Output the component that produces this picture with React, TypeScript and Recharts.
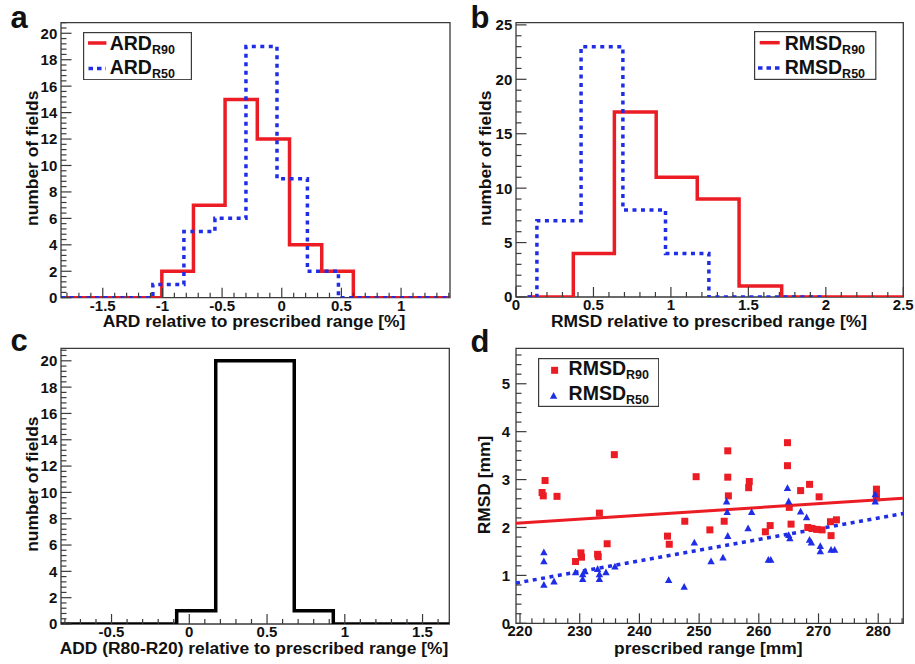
import React from 'react';
import { ComposedChart, Line, Scatter, XAxis, YAxis, Legend, ReferenceArea } from 'recharts';

const FONT = '"Liberation Sans", Arial, Helvetica, sans-serif';
const RED = '#ec1c24';
const BLUE = '#1f2de6';
const INK = '#111111';
const FRAME = '#3a3a3a';

// ---------- Panel a : ARD histograms ----------
const ardR90Edges = [-1.005, -0.74, -0.475, -0.205, 0.065, 0.335, 0.6];
const ardR90Counts = [2, 7, 15, 12, 4, 2];
const ardR50Edges = [-1.08, -0.82, -0.56, -0.3, -0.04, 0.215, 0.475];
const ardR50Counts = [1, 5, 6, 19, 9, 2];
const ardXRange = [-1.85, 1.41];
const ardYMax = 20.8;
const ardXLabels = [-1.5, -1, -0.5, 0, 0.5, 1];
const ardYLabels = [0, 2, 4, 6, 8, 10, 12, 14, 16, 18, 20];

// ---------- Panel b : RMSD histograms ----------
const rmsdR90Edges = [0.37, 0.635, 0.905, 1.17, 1.44, 1.715];
const rmsdR90Counts = [4, 17, 11, 9, 1];
const rmsdR50Edges = [0.135, 0.42, 0.69, 0.965, 1.245];
const rmsdR50Counts = [7, 23, 8, 4];
const rmsdR90Span = [0.075, 2.5];
const rmsdR50Span = [0.075, 2.0];
const rmsdXRange = [0, 2.5];
const rmsdYMax = 25.2;
const rmsdXLabels = [0, 0.5, 1, 1.5, 2, 2.5];
const rmsdYLabels = [0, 5, 10, 15, 20, 25];

// ---------- Panel c : ADD histogram ----------
const addEdges = [-0.081, 0.17, 0.423, 0.675, 0.926];
const addCounts = [1, 20, 20, 1];
const addXRange = [-0.825, 1.672];
const addYMax = 20.95;
const addXLabels = [-0.5, 0, 0.5, 1, 1.5];
const addYLabels = [0, 2, 4, 6, 8, 10, 12, 14, 16, 18, 20];

// ---------- Panel d : RMSD vs prescribed range ----------
const rangeXRange = [219.33, 284.2];
const rangeYMax = 5.74;
const rangeXLabels = [220, 230, 240, 250, 260, 270, 280];
const rangeYLabels = [0, 1, 2, 3, 4, 5];
const r90Range = [223.7, 223.9, 224.2, 226.2, 229.3, 230.2, 230.3, 233.0, 233.1, 233.3, 234.6, 235.8, 244.7, 245.0, 247.6, 249.5, 251.8, 254.2, 254.8, 254.8, 254.9, 258.3, 258.4, 261.1, 261.9, 264.8, 264.8, 265.1, 265.4, 267.0, 268.5, 268.2, 268.9, 269.7, 270.6, 270.1, 272.1, 272.0, 273.0, 279.7, 279.7, 279.7];
const r90Rmsd = [2.73, 2.66, 2.98, 2.65, 1.29, 1.47, 1.38, 1.44, 1.39, 2.30, 1.66, 3.52, 1.82, 1.65, 2.13, 3.06, 1.95, 2.13, 3.60, 3.05, 2.66, 2.83, 2.96, 1.91, 2.04, 3.77, 3.29, 2.42, 2.07, 2.77, 2.90, 2.00, 1.98, 1.96, 1.95, 2.64, 1.83, 2.12, 2.16, 2.80, 2.70, 2.62];
const r50Range = [224.0, 224.0, 224.0, 225.7, 229.3, 230.5, 230.5, 230.9, 233.0, 233.3, 233.3, 234.4, 235.9, 244.9, 247.5, 249.2, 252.0, 254.0, 254.6, 254.7, 254.8, 258.2, 258.8, 261.6, 262.0, 264.8, 265.0, 265.0, 265.2, 267.0, 268.0, 268.5, 268.8, 270.3, 270.3, 272.1, 272.7, 279.5, 279.5];
const r50Rmsd = [1.48, 1.29, 0.80, 0.87, 1.06, 1.02, 0.92, 1.08, 1.13, 1.02, 0.92, 1.06, 1.18, 0.90, 0.76, 1.68, 1.29, 1.37, 2.54, 2.32, 1.82, 1.98, 2.32, 1.32, 1.32, 2.82, 2.54, 1.84, 1.77, 2.33, 2.21, 1.74, 1.68, 1.61, 1.50, 1.53, 1.53, 2.69, 2.54];
const fitR90X = [219.33, 284.2];
const fitR90Y = [2.09, 2.61];
const fitR50X = [219.33, 284.2];
const fitR50Y = [0.84, 2.29];

// ---------- helpers ----------
function stepSeries(edges: number[], counts: number[], from: number, to: number) {
  const pts: { x: number; y: number }[] = [{ x: from, y: 0 }];
  counts.forEach((c, i) => pts.push({ x: edges[i], y: c }));
  pts.push({ x: edges[edges.length - 1], y: 0 });
  pts.push({ x: to, y: 0 });
  return pts;
}

function zip(xs: number[], ys: number[]) {
  return xs.map((x, i) => ({ x, y: ys[i] }));
}

function minorTicks(lo: number, hi: number, step: number) {
  const out: number[] = [];
  const s = Math.ceil(lo / step - 1e-9);
  const e = Math.floor(hi / step + 1e-9);
  for (let k = s; k <= e; k++) out.push(Math.round(k * step * 1e6) / 1e6);
  return out;
}

function isLabel(labels: number[], v: number) {
  return labels.some((l) => Math.abs(l - v) < 1e-6);
}

function makeXTick(labels: number[]) {
  return (props: any) => {
    const { x, y, payload } = props;
    const v = payload.value;
    const major = isLabel(labels, v);
    return (
      <g>
        <line x1={x} y1={y} x2={x} y2={y - (major ? 10 : 5)} stroke={FRAME} strokeWidth={1.2} />
        {major && (
          <text x={x} y={y + 13} textAnchor="middle" fontFamily={FONT} fontWeight="bold" fontSize={15} fill={INK}>
            {String(v)}
          </text>
        )}
      </g>
    );
  };
}

function makeYTick(labels: number[], gap: number) {
  return (props: any) => {
    const { x, y, payload } = props;
    const v = payload.value;
    const major = isLabel(labels, v);
    return (
      <g>
        <line x1={x} y1={y} x2={x + (major ? 10.5 : 5.5)} y2={y} stroke={FRAME} strokeWidth={1.2} />
        {major && (
          <text x={x - gap} y={y} dy="0.36em" textAnchor="end" fontFamily={FONT} fontWeight="bold" fontSize={15} fill={INK}>
            {String(v)}
          </text>
        )}
      </g>
    );
  };
}

const LEG_MAIN = 19.5;
const LEG_SUB = 12.5;

function LegendText({ x, y, main, sub }: any) {
  return (
    <text x={x} y={y} fontFamily={FONT} fontWeight="bold" fontSize={LEG_MAIN} fill={INK}>
      {main}
      <tspan fontSize={LEG_SUB} dy={3.5}>{sub}</tspan>
    </text>
  );
}

function LegendFrame({ w, h, children }: any) {
  return (
    <svg width={w} height={h} style={{ display: 'block' }}>
      <rect x={0.6} y={0.6} width={w - 1.2} height={h - 1.2} fill="#ffffff" stroke={FRAME} strokeWidth={1.2} />
      {children}
    </svg>
  );
}

// ---------- panels ----------
function PanelA() {
  const xt = minorTicks(ardXRange[0], ardXRange[1], 0.1);
  const yt = minorTicks(0, ardYMax, 0.4);
  return (
    <ComposedChart width={458} height={332} margin={{ top: 22.7, right: 8, bottom: 4.3, left: 21 }}>
      <XAxis type="number" dataKey="x" domain={ardXRange} allowDataOverflow ticks={xt} interval={0} tick={makeXTick(ardXLabels)} tickLine={false} axisLine={false} tickSize={0} tickMargin={0} height={30} />
      <YAxis type="number" dataKey="y" domain={[0, ardYMax]} allowDataOverflow ticks={yt} interval={0} tick={makeYTick(ardYLabels, 3.7)} tickLine={false} axisLine={false} tickSize={0} tickMargin={0} width={40} />
      <ReferenceArea x1={ardXRange[0]} x2={ardXRange[1]} y1={0} y2={ardYMax} fill="none" fillOpacity={0} stroke={FRAME} strokeWidth={1.3} ifOverflow="visible" />
      <Line data={stepSeries(ardR90Edges, ardR90Counts, ardXRange[0], ardXRange[1])} dataKey="y" type="stepAfter" stroke={RED} strokeWidth={3.5} dot={false} isAnimationActive={false} />
      <Line data={stepSeries(ardR50Edges, ardR50Counts, ardXRange[0], ardXRange[1])} dataKey="y" type="stepAfter" stroke={BLUE} strokeWidth={3.5} strokeDasharray="4 4.5" dot={false} isAnimationActive={false} />
      <Legend
        layout="vertical"
        align="center"
        verticalAlign="middle"
        wrapperStyle={{ left: 83.3, top: 31.7, width: 109, height: 48.3 }}
        content={() => (
          <LegendFrame w={109} h={48.3}>
            <line x1={5} y1={11} x2={23.4} y2={11} stroke={RED} strokeWidth={3.5} />
            <LegendText x={26.7} y={18.3} main="ARD" sub="R90" />
            <line x1={5.5} y1={36.6} x2={23} y2={36.6} stroke={BLUE} strokeWidth={3.5} strokeDasharray="4.5 4" />
            <LegendText x={26.7} y={42.3} main="ARD" sub="R50" />
          </LegendFrame>
        )}
      />
    </ComposedChart>
  );
}

function PanelB() {
  const xt = minorTicks(rmsdXRange[0], rmsdXRange[1], 0.1);
  const yt = minorTicks(0, rmsdYMax, 1);
  return (
    <ComposedChart width={457} height={332} margin={{ top: 22.7, right: 11.7, bottom: 5, left: 18 }}>
      <XAxis type="number" dataKey="x" domain={rmsdXRange} allowDataOverflow ticks={xt} interval={0} tick={makeXTick(rmsdXLabels)} tickLine={false} axisLine={false} tickSize={0} tickMargin={0} height={30} />
      <YAxis type="number" dataKey="y" domain={[0, rmsdYMax]} allowDataOverflow ticks={yt} interval={0} tick={makeYTick(rmsdYLabels, 3.7)} tickLine={false} axisLine={false} tickSize={0} tickMargin={0} width={40} />
      <ReferenceArea x1={rmsdXRange[0]} x2={rmsdXRange[1]} y1={0} y2={rmsdYMax} fill="none" fillOpacity={0} stroke={FRAME} strokeWidth={1.3} ifOverflow="visible" />
      <Line data={stepSeries(rmsdR90Edges, rmsdR90Counts, rmsdR90Span[0], rmsdR90Span[1])} dataKey="y" type="stepAfter" stroke={RED} strokeWidth={3.5} dot={false} isAnimationActive={false} />
      <Line data={stepSeries(rmsdR50Edges, rmsdR50Counts, rmsdR50Span[0], rmsdR50Span[1])} dataKey="y" type="stepAfter" stroke={BLUE} strokeWidth={3.5} strokeDasharray="4 4.5" dot={false} isAnimationActive={false} />
      <Legend
        layout="vertical"
        align="center"
        verticalAlign="middle"
        wrapperStyle={{ left: 296.3, top: 31, width: 122.4, height: 49 }}
        content={() => (
          <LegendFrame w={122.4} h={49}>
            <line x1={5.7} y1={11.7} x2={25.7} y2={11.7} stroke={RED} strokeWidth={3.5} />
            <LegendText x={30.7} y={19} main="RMSD" sub="R90" />
            <line x1={4} y1={37} x2={25.7} y2={37} stroke={BLUE} strokeWidth={3.5} strokeDasharray="4.5 4" />
            <LegendText x={30.7} y={43} main="RMSD" sub="R50" />
          </LegendFrame>
        )}
      />
    </ComposedChart>
  );
}

function PanelC() {
  const xt = minorTicks(addXRange[0], addXRange[1], 0.1);
  const yt = minorTicks(0, addYMax, 0.4);
  return (
    <ComposedChart width={458} height={332} margin={{ top: 16.3, right: 8.7, bottom: 10, left: 21 }}>
      <XAxis type="number" dataKey="x" domain={addXRange} allowDataOverflow ticks={xt} interval={0} tick={makeXTick(addXLabels)} tickLine={false} axisLine={false} tickSize={0} tickMargin={0} height={30} />
      <YAxis type="number" dataKey="y" domain={[0, addYMax]} allowDataOverflow ticks={yt} interval={0} tick={makeYTick(addYLabels, 3.7)} tickLine={false} axisLine={false} tickSize={0} tickMargin={0} width={40} />
      <ReferenceArea x1={addXRange[0]} x2={addXRange[1]} y1={0} y2={addYMax} fill="none" fillOpacity={0} stroke={FRAME} strokeWidth={1.3} ifOverflow="visible" />
      <Line data={stepSeries(addEdges, addCounts, addXRange[0], addXRange[1])} dataKey="y" type="stepAfter" stroke="#000000" strokeWidth={3.5} dot={false} isAnimationActive={false} />
    </ComposedChart>
  );
}

const squareShape = (p: any) => <rect x={p.cx - 3.5} y={p.cy - 3.5} width={7} height={7} fill={RED} />;
const triangleShape = (p: any) => (
  <polygon points={`${p.cx},${p.cy - 4} ${p.cx + 3.7},${p.cy + 2.8} ${p.cx - 3.7},${p.cy + 2.8}`} fill={BLUE} />
);

function PanelD() {
  const xt = minorTicks(rangeXRange[0], rangeXRange[1], 2);
  const yt = minorTicks(0, rangeYMax, 0.2);
  return (
    <ComposedChart width={457} height={332} margin={{ top: 16.3, right: 11.7, bottom: 10.7, left: 18 }}>
      <XAxis type="number" dataKey="x" domain={rangeXRange} allowDataOverflow ticks={xt} interval={0} tick={makeXTick(rangeXLabels)} tickLine={false} axisLine={false} tickSize={0} tickMargin={0} height={30} />
      <YAxis type="number" dataKey="y" domain={[0, rangeYMax]} allowDataOverflow ticks={yt} interval={0} tick={makeYTick(rangeYLabels, 6)} tickLine={false} axisLine={false} tickSize={0} tickMargin={0} width={40} />
      <ReferenceArea x1={rangeXRange[0]} x2={rangeXRange[1]} y1={0} y2={rangeYMax} fill="none" fillOpacity={0} stroke={FRAME} strokeWidth={1.3} ifOverflow="visible" />
      <Line data={zip(fitR90X, fitR90Y)} dataKey="y" type="linear" stroke={RED} strokeWidth={3} dot={false} isAnimationActive={false} />
      <Line data={zip(fitR50X, fitR50Y)} dataKey="y" type="linear" stroke={BLUE} strokeWidth={3.5} strokeDasharray="4 4.5" dot={false} isAnimationActive={false} />
      <Scatter data={zip(r90Range, r90Rmsd)} fill={RED} shape={squareShape} isAnimationActive={false} />
      <Scatter data={zip(r50Range, r50Rmsd)} fill={BLUE} shape={triangleShape} isAnimationActive={false} />
      <Legend
        layout="vertical"
        align="center"
        verticalAlign="middle"
        wrapperStyle={{ left: 79.7, top: 25.7, width: 121.3, height: 49 }}
        content={() => (
          <LegendFrame w={121.3} h={49}>
            <rect x={13.1} y={8.8} width={7} height={7} fill={RED} />
            <LegendText x={30.6} y={17.3} main="RMSD" sub="R90" />
            <polygon points="15.6,34 19.3,40.8 11.9,40.8" fill={BLUE} />
            <LegendText x={30.6} y={42.3} main="RMSD" sub="R50" />
          </LegendFrame>
        )}
      />
    </ComposedChart>
  );
}

const TITLE = 17.4;

export default function App() {
  const tStyle = { fontFamily: FONT, fontWeight: 'bold' as const, fill: INK };
  return (
    <div style={{ position: 'absolute', left: 0, top: 0, width: 915, height: 664, background: '#ffffff', overflow: 'hidden' }}>
      <div style={{ position: 'absolute', left: 0, top: 0 }}><PanelA /></div>
      <div style={{ position: 'absolute', left: 458, top: 0 }}><PanelB /></div>
      <div style={{ position: 'absolute', left: 0, top: 332 }}><PanelC /></div>
      <div style={{ position: 'absolute', left: 458, top: 332 }}><PanelD /></div>
      <svg width={915} height={664} style={{ position: 'absolute', left: 0, top: 0, pointerEvents: 'none' }}>
        <text x={10.4} y={28.3} fontSize={31} {...tStyle}>a</text>
        <text x={470.5} y={28} fontSize={31} {...tStyle}>b</text>
        <text x={10.4} y={351} fontSize={31} {...tStyle}>c</text>
        <text x={470.5} y={351.7} fontSize={31} {...tStyle}>d</text>

        <text x={254} y={327.3} textAnchor="middle" fontSize={TITLE} {...tStyle}>ARD relative to prescribed range [%]</text>
        <text x={709} y={327.3} textAnchor="middle" fontSize={TITLE} {...tStyle}>RMSD relative to prescribed range [%]</text>
        <text x={254} y={654} textAnchor="middle" fontSize={TITLE} {...tStyle}>ADD (R80-R20) relative to prescribed range [%]</text>
        <text x={708.3} y={653.5} textAnchor="middle" fontSize={TITLE} {...tStyle}>prescribed range [mm]</text>

        <text x={38.3} y={158.3} textAnchor="middle" fontSize={TITLE} transform="rotate(-90 38.3 158.3)" {...tStyle}>number of fields</text>
        <text x={491.5} y={158.3} textAnchor="middle" fontSize={TITLE} transform="rotate(-90 491.5 158.3)" {...tStyle}>number of fields</text>
        <text x={38.3} y={484.2} textAnchor="middle" fontSize={TITLE} transform="rotate(-90 38.3 484.2)" {...tStyle}>number of fields</text>
        <text x={490} y={485} textAnchor="middle" fontSize={TITLE} transform="rotate(-90 490 485)" {...tStyle}>RMSD [mm]</text>
      </svg>
    </div>
  );
}
